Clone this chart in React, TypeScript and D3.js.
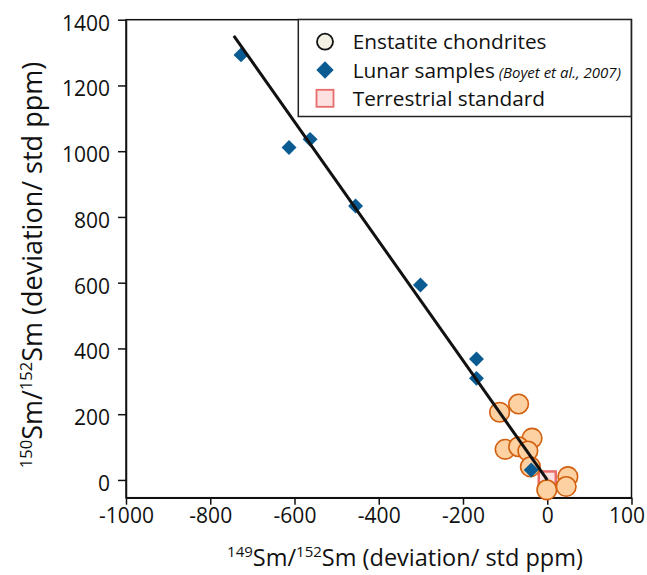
import React, { useEffect, useRef } from 'react';
import * as d3 from 'd3';

// lunar samples (Boyet et al., 2007)
const lunarX = [-727, -613, -563, -455, -301, -168, -168, -38];
const lunarY = [1293, 1011, 1036, 833, 593, 368, 309, 30];
// enstatite chondrites
const chondriteX = [-68, -113, -36, -100, -68, -46, -40, -1, 49, 45];
const chondriteY = [231, 206, 127, 93, 101, 88, 40, -30, 10, -20];
// terrestrial standard
const standardX = [0];
const standardY = [0];
// regression line end points
const fitX = [-744, 0];
const fitY = [1351, 0];

const xTicks = [-1000, -800, -600, -400, -200, 0, 200];
const xTickLabels = ['-1000', '-800', '-600', '-400', '-200', '0', '100'];
const yTicks = [0, 200, 400, 600, 800, 1000, 1200, 1400];
const legendLabels = ['Enstatite chondrites', 'Lunar samples', 'Terrestrial standard'];
const legendNote = '(Boyet et al., 2007)';

const FONT = '"Open Sans", sans-serif';

export default function App() {
  const ref = useRef<SVGSVGElement>(null);

  useEffect(() => {
    const width = 647;
    const height = 575;
    const svg = d3.select(ref.current);
    svg.selectAll('*').remove();

    const x = d3.scaleLinear().domain([-1000, 200]).range([126, 631.5]);
    const y = d3.scaleLinear().domain([-54, 1400]).range([497.7, 19.7]);

    // frame
    svg.append('rect')
      .attr('x', x(-1000)).attr('y', y(1400))
      .attr('width', x(200) - x(-1000)).attr('height', y(-54) - y(1400))
      .attr('fill', 'none').attr('stroke', '#111').attr('stroke-width', 1.5);

    const xAxis = svg.append('g')
      .attr('transform', `translate(0,${y(-54)})`)
      .call(d3.axisBottom(x).tickValues(xTicks).tickSize(7).tickSizeOuter(0)
        .tickFormat((d, i) => xTickLabels[i]));
    xAxis.select('.domain').attr('stroke', '#111').attr('stroke-width', 1.5);
    xAxis.selectAll('.tick line').attr('stroke', '#111').attr('stroke-width', 1.5);
    xAxis.selectAll('.tick text')
      .attr('font-family', FONT).attr('font-size', 21).attr('fill', '#111')
      .attr('y', 10).attr('dy', '0.71em')
      .attr('x', (d, i) => (i === xTicks.length - 1 ? -5 : 0));

    const yAxis = svg.append('g')
      .attr('transform', `translate(${x(-1000)},0)`)
      .call(d3.axisLeft(y).tickValues(yTicks).tickSize(8).tickSizeOuter(0).tickFormat(d3.format('d')));
    yAxis.select('.domain').attr('stroke', '#111').attr('stroke-width', 1.5);
    yAxis.selectAll('.tick line').attr('stroke', '#111').attr('stroke-width', 1.5);
    yAxis.selectAll('.tick text')
      .attr('font-family', FONT).attr('font-size', 21).attr('fill', '#111')
      .attr('x', -16).attr('dy', '0.5em');

    // terrestrial standard
    svg.append('g').selectAll('rect')
      .data(standardX)
      .join('rect')
      .attr('x', (d) => x(d) - 8.5)
      .attr('y', (d, i) => y(standardY[i]) - 8.5)
      .attr('width', 17).attr('height', 17)
      .attr('fill', '#fde1e1').attr('stroke', '#e86c6b').attr('stroke-width', 2.5);

    // chondrites
    svg.append('g').selectAll('circle')
      .data(chondriteX)
      .join('circle')
      .attr('cx', (d) => x(d))
      .attr('cy', (d, i) => y(chondriteY[i]))
      .attr('r', 9.8)
      .attr('fill', '#fdd1a2').attr('stroke', '#d2600f').attr('stroke-width', 1.6);

    // lunar samples
    const diamond = d3.symbol(d3.symbolSquare, 112);
    svg.append('g').selectAll('path')
      .data(lunarX)
      .join('path')
      .attr('d', diamond)
      .attr('transform', (d, i) => `translate(${x(d)},${y(lunarY[i])}) rotate(45)`)
      .attr('fill', '#0b5b93');

    // fit line
    svg.append('line')
      .attr('x1', x(fitX[0])).attr('y1', y(fitY[0]))
      .attr('x2', x(fitX[1])).attr('y2', y(fitY[1]))
      .attr('stroke', '#111').attr('stroke-width', 3);

    // legend
    const lg = svg.append('g');
    lg.append('rect')
      .attr('x', 298.3).attr('y', 19.5).attr('width', 333).attr('height', 97)
      .attr('fill', '#fff').attr('stroke', '#222').attr('stroke-width', 1.5);
    const rowY = [41.7, 70, 98.3];
    lg.append('circle').attr('cx', 325).attr('cy', rowY[0]).attr('r', 8)
      .attr('fill', '#f3f1e4').attr('stroke', '#111').attr('stroke-width', 1.8);
    lg.append('path').attr('d', d3.symbol(d3.symbolSquare, 150)())
      .attr('transform', `translate(325,${rowY[1]}) rotate(45)`).attr('fill', '#0b5b93');
    lg.append('rect').attr('x', 325 - 8.5).attr('y', rowY[2] - 8.5).attr('width', 17).attr('height', 17)
      .attr('fill', '#fde1e1').attr('stroke', '#e86c6b').attr('stroke-width', 1.8);
    legendLabels.forEach((label, i) => {
      const t = lg.append('text')
        .attr('x', 352.7).attr('y', rowY[i] + 7.5)
        .attr('font-family', FONT).attr('font-size', 20.8).attr('fill', '#111')
        .text(label);
      if (i === 1) {
        t.append('tspan').attr('font-size', 15).attr('font-style', 'italic').text(' ' + legendNote);
      }
    });

    // axis titles
    const xt = svg.append('text')
      .attr('x', 405).attr('y', 566)
      .attr('text-anchor', 'middle')
      .attr('font-family', FONT).attr('font-size', 23.5).attr('fill', '#111');
    xt.append('tspan').attr('font-size', 15).attr('dy', -9).text('149');
    xt.append('tspan').attr('dy', 9).text('Sm/');
    xt.append('tspan').attr('font-size', 15).attr('dy', -9).text('152');
    xt.append('tspan').attr('dy', 9).text('Sm (deviation/ std ppm)');

    const yt = svg.append('text')
      .attr('transform', `translate(42,${265}) rotate(-90)`)
      .attr('text-anchor', 'middle')
      .attr('font-family', FONT).attr('font-size', 27).attr('fill', '#111');
    yt.append('tspan').attr('font-size', 16.5).attr('dy', -10).text('150');
    yt.append('tspan').attr('dy', 10).text('Sm/');
    yt.append('tspan').attr('font-size', 16.5).attr('dy', -10).text('152');
    yt.append('tspan').attr('dy', 10).text('Sm (deviation/ std ppm)');

    svg.attr('width', width).attr('height', height);
  }, []);

  return (
    <svg ref={ref} width={647} height={575}
      style={{ position: 'absolute', left: 0, top: 0, background: '#fff' }} />
  );
}
